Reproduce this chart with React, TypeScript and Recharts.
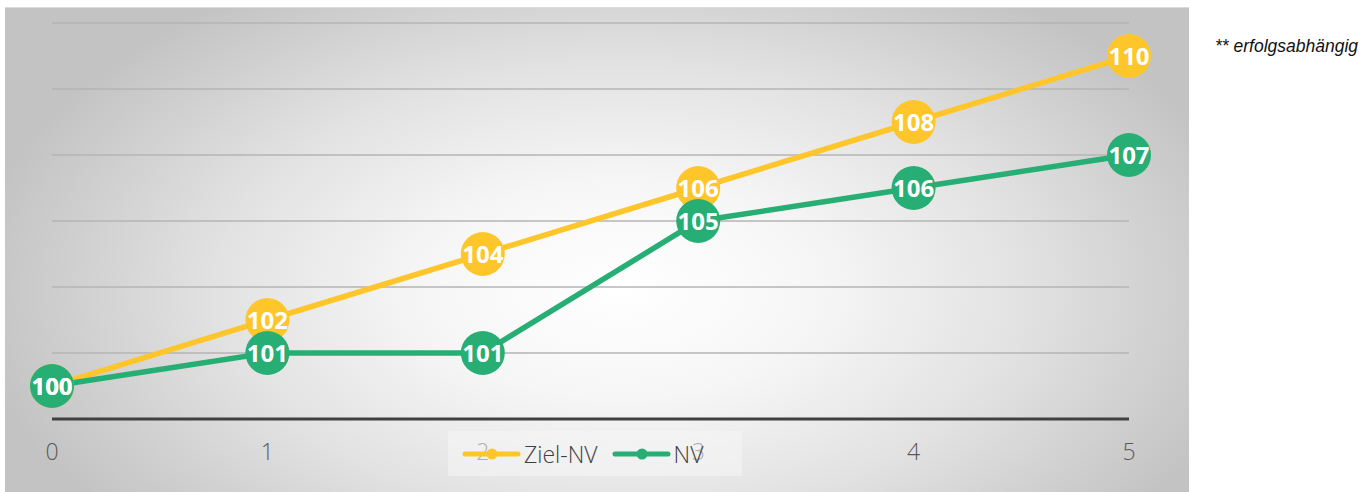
import React from 'react';
import { LineChart, Line, XAxis, YAxis, CartesianGrid, LabelList } from 'recharts';

// values
const years = [0, 1, 2, 3, 4, 5];
const zielNv = [100, 102, 104, 106, 108, 110];
const nv = [100, 101, 101, 105, 106, 107];
const yTicks = [99, 101, 103, 105, 107, 109, 111];

const YELLOW = '#FFC62B';
const GREEN = '#27AE74';

const data = years.map((x, i) => ({ x, ziel: zielNv[i], nv: nv[i] }));

const seriesInfo = [
  { name: 'Ziel-NV', color: YELLOW },
  { name: 'NV', color: GREEN },
];

const LegendBox = () => (
  <div
    style={{
      position: 'absolute',
      left: 448,
      top: 431,
      width: 294,
      height: 45,
      display: 'flex',
      alignItems: 'center',
      paddingLeft: 14,
      boxSizing: 'border-box',
      background: 'rgba(246,246,246,0.55)',
      fontFamily: '"Open Sans", sans-serif',
      fontWeight: 300,
      fontSize: 23,
      color: '#404040',
    }}
  >
    {seriesInfo.map((s, i) => (
      <div key={s.name} style={{ display: 'flex', alignItems: 'center', marginRight: i === 0 ? 14 : 0 }}>
        <svg width={60} height={14} style={{ marginRight: 2 }}>
          <line x1={3} y1={7} x2={56} y2={7} stroke={s.color} strokeWidth={5} strokeLinecap="round" />
          <circle cx={30} cy={7} r={5.5} fill={s.color} />
        </svg>
        <span>{s.name}</span>
      </div>
    ))}
  </div>
);

export default function App() {
  return (
    <div style={{ position: 'absolute', left: 0, top: 0, width: 1369, height: 492, background: '#fff' }}>
      <div
        style={{
          position: 'absolute',
          left: 5,
          top: 7,
          width: 1184,
          height: 485,
          borderTop: '1px solid #dadada',
          background:
            'radial-gradient(ellipse 55% 75% at 52% 58%, #ffffff 0%, #f6f6f6 30%, #e2e2e2 62%, #cfcfcf 85%, #c3c3c3 100%)',
        }}
      >
        <LineChart width={1184} height={484} data={data} margin={{ top: 15, right: 60, bottom: 43, left: 47 }}>
          <CartesianGrid horizontal vertical={false} stroke="#b5b5b5" strokeWidth={1.5} />
          <YAxis hide type="number" domain={[99, 111]} ticks={yTicks} />
          <XAxis
            dataKey="x"
            type="number"
            domain={[0, 5]}
            ticks={years}
            height={30}
            axisLine={{ stroke: '#404040', strokeWidth: 3 }}
            tickLine={false}
            tickSize={0}
            tickMargin={25}
            tick={{ fill: '#595959', fontSize: 23, fontFamily: '"Open Sans", sans-serif', fontWeight: 300 }}
          />
          <Line
            dataKey="ziel"
            name="Ziel-NV"
            stroke={YELLOW}
            strokeWidth={5.5}
            dot={{ r: 22, fill: YELLOW, stroke: 'none' }}
            activeDot={false}
            isAnimationActive={false}
          >
            <LabelList
              dataKey="ziel"
              position="center"
              fill="#fff"
              fontSize={24}
              fontWeight={700}
              fontFamily='"Open Sans", sans-serif'
            />
          </Line>
          <Line
            dataKey="nv"
            name="NV"
            stroke={GREEN}
            strokeWidth={5.5}
            dot={{ r: 22, fill: GREEN, stroke: 'none' }}
            activeDot={false}
            isAnimationActive={false}
          >
            <LabelList
              dataKey="nv"
              position="center"
              fill="#fff"
              fontSize={24}
              fontWeight={700}
              fontFamily='"Open Sans", sans-serif'
            />
          </Line>
        </LineChart>
      </div>
      <LegendBox />
      <div
        style={{
          position: 'absolute',
          left: 1215,
          top: 36,
          fontFamily: '"Liberation Sans", Arial, sans-serif',
          fontStyle: 'italic',
          fontSize: 17.5,
          color: '#111',
          whiteSpace: 'nowrap',
        }}
      >
        ** erfolgsabhängig
      </div>
    </div>
  );
}
